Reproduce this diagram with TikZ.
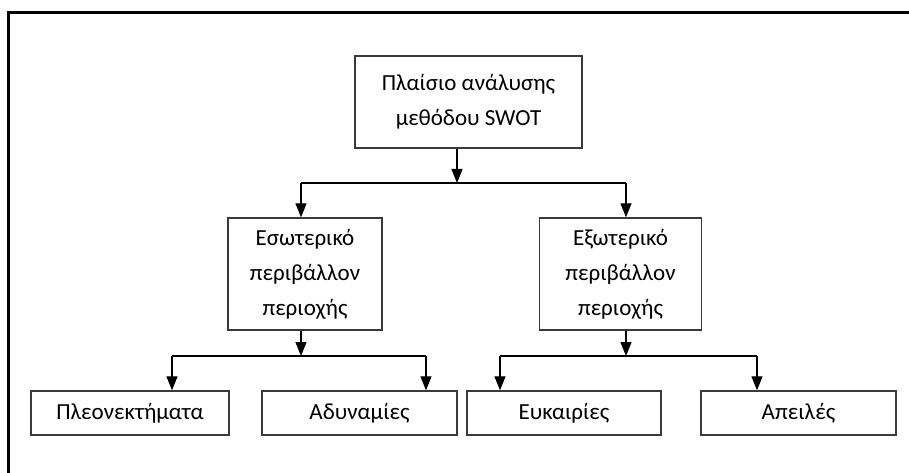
\documentclass[tikz,border=0pt]{standalone}
\usepackage{fontspec}
\setmainfont{Carlito}
\usetikzlibrary{arrows.meta,calc}
\definecolor{boxline}{HTML}{3A3A3A}
\tikzset{
  box/.style={draw=boxline, line width=1.4pt, fill=white, align=center, inner sep=0pt,
    font={\fontsize{23}{35}\selectfont}},
  conn/.style={draw=black, line width=1.3pt},
  arr/.style={conn, -{Triangle[length=14pt,width=11pt]}},
  frame/.style={draw=black, line width=3pt}
}
\begin{document}
\begin{tikzpicture}[x=1pt,y=-1pt]
\useasboundingbox (0,0) rectangle (909,473);
\fill[white] (0,0) rectangle (909,473);
% frame (top and left edges)
\coordinate (fTL) at (8,13);
\coordinate (fTR) at (909,13);
\coordinate (fBL) at (8,473);
\draw[frame] (fTR) -- (fTL) -- (fBL);

% nodes
\node[box, minimum width=227pt, minimum height=92pt] (top) at (468.5,102) {Πλαίσιο ανάλυσης\\μεθόδου SWOT};
\node[box, minimum width=154pt, minimum height=112pt] (esw) at (305,274) {Εσωτερικό\\περιβάλλον\\περιοχής};
\node[box, minimum width=162pt, minimum height=112pt] (exw) at (620.5,274) {Εξωτερικό\\περιβάλλον\\περιοχής};
\node[box, minimum width=198pt, minimum height=44pt] (ple) at (130,413) {Πλεονεκτήματα};
\node[box, minimum width=195pt, minimum height=44pt] (ady) at (359.5,413) {Αδυναμίες};
\node[box, minimum width=194pt, minimum height=44pt] (euk) at (564,413) {Ευκαιρίες};
\node[box, minimum width=195pt, minimum height=44pt] (ape) at (798.5,413) {Απειλές};

% junctions
\coordinate (j1) at (457,183);
\coordinate (j1l) at (301,183);
\coordinate (j1r) at (626,183);
\coordinate (j2) at (301,356);
\coordinate (j2l) at (172,356);
\coordinate (j2r) at (426,356);
\coordinate (j3) at (626,356);
\coordinate (j3l) at (500,356);
\coordinate (j3r) at (757,356);

% connectors
\draw[arr] (j1 |- top.south) -- (j1);
\draw[conn] (j1l) -- (j1r);
\draw[arr] (j1l) -- (j1l |- esw.north);
\draw[arr] (j1r) -- (j1r |- exw.north);

\draw[arr] (j2 |- esw.south) -- (j2);
\draw[conn] (j2l) -- (j2r);
\draw[arr] (j2l) -- (j2l |- ple.north);
\draw[arr] (j2r) -- (j2r |- ady.north);

\draw[arr] (j3 |- exw.south) -- (j3);
\draw[conn] (j3l) -- (j3r);
\draw[arr] (j3l) -- (j3l |- euk.north);
\draw[arr] (j3r) -- (j3r |- ape.north);
\end{tikzpicture}
\end{document}
